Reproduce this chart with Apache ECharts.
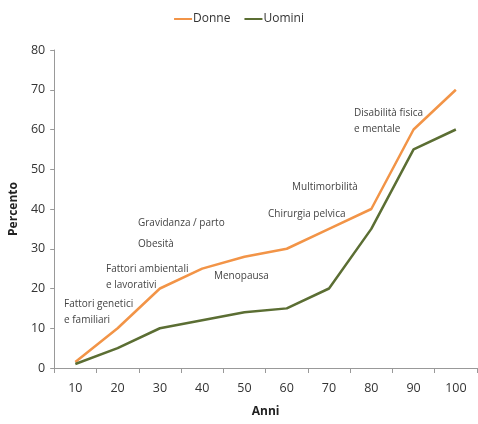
<!DOCTYPE html>
<html>
<head>
<meta charset="utf-8">
<script src="https://cdn.jsdelivr.net/npm/echarts@6/dist/echarts.min.js"></script>
<style>
  html, body { margin: 0; padding: 0; background: #fff; }
  #chart { width: 478px; height: 424px; }
</style>
</head>
<body>
<div id="chart"></div>
<script>
// Age groups (years) and share of affected people (%)
const anni = ['10', '20', '30', '40', '50', '60', '70', '80', '90', '100'];
const donne = [1.5, 10, 20, 25, 28, 30, 35, 40, 60, 70];
const uomini = [1, 5, 10, 12, 14, 15, 20, 35, 55, 60];
const yTicks = { min: 0, max: 80, interval: 10 };

// Risk factors written next to the curves
const fattori = [
  { text: 'Fattori genetici\ne familiari', left: 64, top: 296 },
  { text: 'Fattori ambientali\ne lavorativi', left: 106, top: 261 },
  { text: 'Obesità', left: 138, top: 236 },
  { text: 'Gravidanza / parto', left: 138, top: 215 },
  { text: 'Menopausa', left: 214, top: 268 },
  { text: 'Chirurgia pelvica', left: 268, top: 206 },
  { text: 'Multimorbilità', left: 292, top: 179 },
  { text: 'Disabilità fisica\ne mentale', left: 354, top: 105 }
];

const FONT = 'Open Sans';
const chart = echarts.init(document.getElementById('chart'));

chart.setOption({
  animation: false,
  textStyle: { fontFamily: FONT },
  legend: {
    top: 8,
    left: 'center',
    itemWidth: 18,
    itemHeight: 2,
    itemGap: 14,
    icon: 'rect',
    textStyle: { fontSize: 12, color: '#333', fontFamily: FONT, padding: [0, 0, 0, -4] },
    data: ['Donne', 'Uomini']
  },
  grid: { left: 53, right: 1, top: 50, bottom: 56 },
  xAxis: {
    type: 'category',
    data: anni,
    boundaryGap: true,
    name: 'Anni',
    nameLocation: 'middle',
    nameGap: 38,
    nameTextStyle: { fontWeight: 'bold', fontSize: 12, color: '#222', fontFamily: FONT },
    axisLine: { lineStyle: { color: '#999', width: 1 } },
    axisTick: { show: true, alignWithLabel: false, length: 5, lineStyle: { color: '#999' } },
    axisLabel: { fontSize: 12.5, color: '#333', margin: 14, fontFamily: FONT }
  },
  yAxis: {
    type: 'value',
    min: yTicks.min,
    max: yTicks.max,
    interval: yTicks.interval,
    name: 'Percento',
    nameLocation: 'middle',
    nameGap: 32,
    nameTextStyle: { fontWeight: 'bold', fontSize: 12, color: '#222', fontFamily: FONT },
    splitLine: { show: false },
    axisLine: { show: true, lineStyle: { color: '#999', width: 1 } },
    axisTick: { show: true, length: 4, lineStyle: { color: '#999' } },
    axisLabel: { fontSize: 12.5, color: '#333', margin: 9, fontFamily: FONT }
  },
  series: [
    {
      name: 'Donne',
      type: 'line',
      data: donne,
      symbol: 'none',
      color: '#F29447',
      lineStyle: { width: 2.5, color: '#F29447' }
    },
    {
      name: 'Uomini',
      type: 'line',
      data: uomini,
      symbol: 'none',
      color: '#5B6E33',
      lineStyle: { width: 2.5, color: '#5B6E33' }
    }
  ],
  graphic: fattori.map(f => ({
    type: 'text',
    left: f.left,
    top: f.top,
    style: {
      text: f.text,
      fontSize: 10,
      lineHeight: 16,
      fill: '#444',
      fontFamily: FONT
    }
  }))
});
</script>
</body>
</html>
